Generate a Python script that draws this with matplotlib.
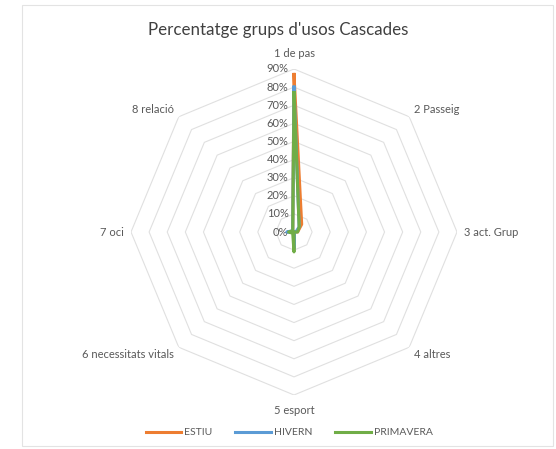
import numpy as np
import matplotlib.pyplot as plt
from matplotlib.patches import Rectangle

# ── data (percent) ────────────────────────────────────────────────────────────
categories = ["1 de pas", "2 Passeig", "3 act. Grup", "4 altres",
              "5 esport", "6 necessitats vitals", "7 oci", "8 relació"]
estiu     = [87, 6, 2, 0, 8, 0, 2, 1]
hivern    = [80, 4, 1, 0, 9, 0, 4, 1]
primavera = [77, 4, 2, 0, 11, 1, 3, 1]
r_ticks   = [0, 10, 20, 30, 40, 50, 60, 70, 80, 90]

series = [("ESTIU", estiu, "#ED7D31"),
          ("HIVERN", hivern, "#5B9BD5"),
          ("PRIMAVERA", primavera, "#70AD47")]

plt.rcParams["font.family"] = ["Lato", "DejaVu Sans"]
txt = "#595959"

n = len(categories)
theta = np.linspace(0, 2 * np.pi, n, endpoint=False)
theta_c = np.append(theta, theta[0])

fig = plt.figure(figsize=(5.56, 4.49), dpi=100)
fig.patches.append(Rectangle((22 / 556, 3 / 449), 531 / 556, 441 / 449,
                             transform=fig.transFigure, fill=False,
                             edgecolor="#E3E3E3", lw=0.8))

ax = fig.add_axes([(294 - 163) / 556, (449 - 232 - 163) / 449,
                   326 / 556, 326 / 449], projection="polar")
ax.set_theta_offset(np.pi / 2)
ax.set_theta_direction(-1)
ax.set_ylim(0, 90)
ax.grid(False)
ax.spines["polar"].set_visible(False)
ax.set_xticks([])
ax.set_yticks([])
ax.patch.set_alpha(0)

# octagon gridlines
for r in r_ticks[1:]:
    ax.plot(theta_c, [r] * (n + 1), color="#E0E0E0", lw=0.8, zorder=1)

# radial labels
for r in r_ticks:
    ax.annotate(f"{r}%", xy=(0, r), xytext=(-4, 0), textcoords="offset points",
                ha="right", va="center", fontsize=8, color=txt)

# category labels
for t, lab in zip(theta, categories):
    s, c = np.sin(t), np.cos(t)
    ha = "center" if abs(s) < 1e-6 else ("left" if s > 0 else "right")
    va = "center"
    if abs(s) < 1e-6:
        va = "bottom" if c > 0 else "top"
    ax.annotate(lab, xy=(t, 90), xytext=(5 * s, 7 * c), textcoords="offset points",
                ha=ha, va=va, fontsize=8, color=txt)

for name, vals, col in series:
    ax.plot(theta_c, vals + vals[:1], color=col, lw=2.2, label=name, zorder=3)

fig.suptitle("Percentatge grups d'usos Cascades", y=0.95, fontsize=12.2, color="#404040")
fig.legend(loc="lower center", bbox_to_anchor=(0.52, 0.005), ncol=3, frameon=False,
           fontsize=7.5, labelcolor=txt, handlelength=3.4, columnspacing=2.2,
           handletextpad=0.3)

fig.savefig("out.png", dpi=100)
